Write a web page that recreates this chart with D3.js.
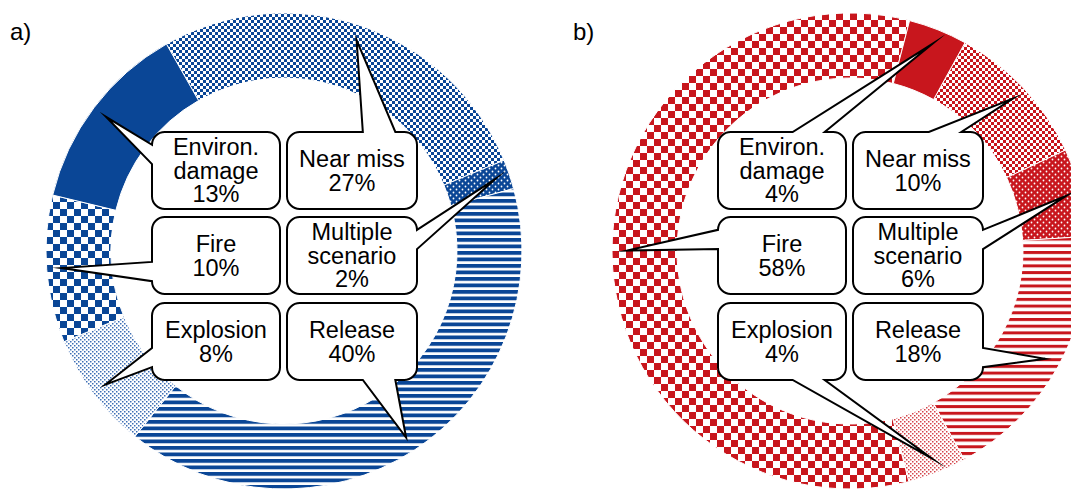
<!DOCTYPE html>
<html><head><meta charset="utf-8">
<script src="https://cdn.jsdelivr.net/npm/d3@7"></script>
<style>
html,body{margin:0;padding:0;background:#fff;}
svg{display:block;font-family:"Liberation Sans",Arial,sans-serif;}
</style></head>
<body>
<svg id="chart" width="1071" height="489"></svg>
<script>
// ---- data ----
const categories = ["Near miss", "Multiple scenario", "Release", "Explosion", "Fire", "Environ. damage"];
const labelLines = [["Near miss"], ["Multiple", "scenario"], ["Release"], ["Explosion"], ["Fire"], ["Environ.", "damage"]];
const valuesA = [27, 2, 40, 8, 10, 13];
const valuesB = [10, 6, 18, 4, 58, 4];
const panelLabels = ["a)", "b)"];

// ---- layout ----
const W = 1071, H = 489;
const svg = d3.select("#chart");
const defs = svg.append("defs");
const R = 238, r0 = 173;
const panels = [
  {id: "a", label: panelLabels[0], values: valuesA, cx: 284, cy: 251, startDeg: -29.6, color: "#0A4696", light: "#3C6DB4", lx: 10},
  {id: "b", label: panelLabels[1], values: valuesB, cx: 850, cy: 251, startDeg: 28.9, color: "#C8161D", light: "#D6434A", lx: 573}
];
// grid slot (col,row) per category
const slots = [[1,0],[1,1],[1,2],[0,2],[0,1],[0,0]];

function makePatterns(p) {
  const c = p.color;
  // small checker
  let pt = defs.append("pattern").attr("id", p.id + "-small").attr("patternUnits", "userSpaceOnUse").attr("width", 6).attr("height", 6);
  pt.append("rect").attr("width", 6).attr("height", 6).attr("fill", "#fff");
  pt.append("rect").attr("width", 3).attr("height", 3).attr("fill", c);
  pt.append("rect").attr("x", 3).attr("y", 3).attr("width", 3).attr("height", 3).attr("fill", c);
  // dots on solid
  pt = defs.append("pattern").attr("id", p.id + "-dots").attr("patternUnits", "userSpaceOnUse").attr("width", 6).attr("height", 6);
  pt.append("rect").attr("width", 6).attr("height", 6).attr("fill", c);
  pt.append("circle").attr("cx", 1.5).attr("cy", 1.5).attr("r", 0.9).attr("fill", "#fff");
  pt.append("circle").attr("cx", 4.5).attr("cy", 4.5).attr("r", 0.9).attr("fill", "#fff");
  // stripes
  const per = p.id === "a" ? 6.5 : 6.7, thick = p.id === "a" ? 3.8 : 3.0;
  pt = defs.append("pattern").attr("id", p.id + "-stripes").attr("patternUnits", "userSpaceOnUse").attr("width", 10).attr("height", per);
  pt.append("rect").attr("width", 10).attr("height", per).attr("fill", "#fff");
  pt.append("rect").attr("width", 10).attr("height", thick).attr("fill", c);
  // light dots
  pt = defs.append("pattern").attr("id", p.id + "-light").attr("patternUnits", "userSpaceOnUse").attr("width", 4).attr("height", 4);
  pt.append("rect").attr("width", 4).attr("height", 4).attr("fill", "#fff");
  pt.append("rect").attr("x", 0).attr("y", 0).attr("width", 1.5).attr("height", 1.5).attr("fill", p.light);
  pt.append("rect").attr("x", 2).attr("y", 2).attr("width", 1.5).attr("height", 1.5).attr("fill", p.light);
  // large checker
  pt = defs.append("pattern").attr("id", p.id + "-large").attr("patternUnits", "userSpaceOnUse").attr("width", 14).attr("height", 14);
  pt.append("rect").attr("width", 14).attr("height", 14).attr("fill", "#fff");
  pt.append("rect").attr("width", 7).attr("height", 7).attr("fill", c);
  pt.append("rect").attr("x", 7).attr("y", 7).attr("width", 7).attr("height", 7).attr("fill", c);
}
const fills = p => [`url(#${p.id}-small)`, `url(#${p.id}-dots)`, `url(#${p.id}-stripes)`, `url(#${p.id}-light)`, `url(#${p.id}-large)`, p.color];

// Office-like rounded rectangular callout
function calloutPath(x, y, w, h, tx, ty, rad) {
  const dx = tx - (x + w / 2), dy = ty - (y + h / 2);
  const dz = Math.abs(dy) - Math.abs(dx * h / w);
  let side;
  if (dz > 0) side = dy < 0 ? "top" : "bottom"; else side = dx < 0 ? "left" : "right";
  const xg1 = dx > 0 ? 7 : 2, xg2 = dx > 0 ? 10 : 5;
  const yg1 = dy > 0 ? 7 : 2, yg2 = dy > 0 ? 10 : 5;
  const bx1 = x + w * xg1 / 12, bx2 = x + w * xg2 / 12;
  const by1 = y + h * yg1 / 12, by2 = y + h * yg2 / 12;
  const pth = d3.path();
  pth.moveTo(x + rad, y);
  if (side === "top") { pth.lineTo(bx1, y); pth.lineTo(tx, ty); pth.lineTo(bx2, y); }
  pth.lineTo(x + w - rad, y);
  pth.arcTo(x + w, y, x + w, y + rad, rad);
  if (side === "right") { pth.lineTo(x + w, by1); pth.lineTo(tx, ty); pth.lineTo(x + w, by2); }
  pth.lineTo(x + w, y + h - rad);
  pth.arcTo(x + w, y + h, x + w - rad, y + h, rad);
  if (side === "bottom") { pth.lineTo(bx2, y + h); pth.lineTo(tx, ty); pth.lineTo(bx1, y + h); }
  pth.lineTo(x + rad, y + h);
  pth.arcTo(x, y + h, x, y + h - rad, rad);
  if (side === "left") { pth.lineTo(x, by2); pth.lineTo(tx, ty); pth.lineTo(x, by1); }
  pth.lineTo(x, y + rad);
  pth.arcTo(x, y, x + rad, y, rad);
  pth.closePath();
  return pth.toString();
}

panels.forEach(p => {
  makePatterns(p);
  const f = fills(p);
  const start = p.startDeg * Math.PI / 180;
  const pie = d3.pie().sort(null).value(d => d).startAngle(start).endAngle(start + 2 * Math.PI);
  const arcs = pie(p.values);
  const arc = d3.arc().innerRadius(r0).outerRadius(R);
  const g = svg.append("g").attr("transform", `translate(${p.cx},${p.cy})`);
  g.selectAll("path.seg").data(arcs).join("path")
    .attr("class", "seg")
    .attr("d", arc)
    .attr("fill", (d, i) => f[i])
    .attr("stroke", "#fff").attr("stroke-width", 1);

  // callouts
  const colX = [-132, 3], colW = [128, 130];
  const rowY = [132 - p.cy, 217 - p.cy, 303 - p.cy], bh = 77;
  const tipR = R - 15;
  arcs.forEach((d, i) => {
    const [col, row] = slots[i];
    const x = colX[col], y = rowY[row], w = colW[col];
    const mid = (d.startAngle + d.endAngle) / 2;
    const tx = tipR * Math.sin(mid), ty = -tipR * Math.cos(mid);
    g.append("path")
      .attr("d", calloutPath(x, y, w, bh, tx, ty, 12.8))
      .attr("fill", "#fff").attr("stroke", "#000").attr("stroke-width", 2)
      .attr("stroke-linejoin", "miter").attr("stroke-miterlimit", 20);
    const lines = labelLines[i].concat([d.data + "%"]);
    const lh = 23.4;
    const t = g.append("text").attr("text-anchor", "middle").attr("font-size", 23.5).attr("fill", "#000");
    lines.forEach((ln, k) => {
      t.append("tspan").attr("x", x + w / 2)
        .attr("y", y + bh / 2 + (k - (lines.length - 1) / 2) * lh + 8.3)
        .text(ln);
    });
  });

  svg.append("text").attr("x", p.lx).attr("y", 40).attr("font-size", 24).attr("fill", "#000").text(p.label);
});
</script>
</body></html>
